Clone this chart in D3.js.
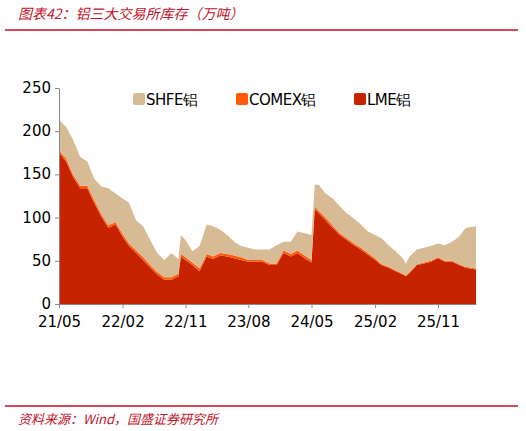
<!DOCTYPE html>
<html><head><meta charset="utf-8">
<script src="https://cdn.jsdelivr.net/npm/d3@7"></script>
<style>body{margin:0;background:#fff}</style></head>
<body><svg id="c" width="526" height="431"></svg>
<script>
const dates=["2021-05-01","2021-06-01","2021-07-01","2021-08-01","2021-09-01","2021-10-01","2021-11-01","2021-12-01","2022-01-01","2022-02-01","2022-03-01","2022-04-01","2022-05-01","2022-06-01","2022-07-01","2022-08-01","2022-09-01","2022-10-01","2022-10-12","2022-11-01","2022-12-01","2023-01-01","2023-02-01","2023-03-01","2023-04-01","2023-05-01","2023-06-01","2023-07-01","2023-08-01","2023-09-01","2023-10-01","2023-11-01","2023-12-01","2024-01-01","2024-02-01","2024-03-01","2024-04-01","2024-05-01","2024-05-15","2024-06-01","2024-07-01","2024-08-01","2024-09-01","2024-10-01","2024-11-01","2024-12-01","2025-01-01","2025-02-01","2025-03-01","2025-04-01","2025-05-01","2025-06-01","2025-06-15","2025-07-01","2025-08-01","2025-09-01","2025-10-01","2025-11-01","2025-12-01","2026-01-01","2026-02-01","2026-03-01","2026-04-15"];
const lme=[175,165,147,134,134,117,101,88,92,78,67,59,51,42,34,28,28,32,55,51,45,38,55,52,56,55,53,51,49,49,49,45,45,59,55,59,53,48,110,105,97,88,80,74,68,63,57,51,45,42,38,34,32,36,45,47,49,53,49,49,45,42,40];
const comex=[3,3,3,3,3,3,3,3,3,3,3,3,3,3,3,3,3,3,3,3,3,3,3,3,3,3,3,3,2,2,2,2,2,3,3,3,3,3,3,3,3,3,2,2,2,2,2,2,1,1,1,1,1,1,1,1,1,1,1,1,1,1,1];
const total=[213,205,190,170,165,145,136,134,128,122,117,97,90,74,59,51,59,52,80,74,61,67,92,90,86,80,72,67,65,63,63,63,68,72,72,84,82,80,138,138,128,122,113,105,99,92,84,80,76,68,61,53,47,55,63,65,67,70,68,72,78,88,90];
const shfe=total.map((t,i)=>t-lme[i]-comex[i]);
const yTicks=[0,50,100,150,200,250];
const xTicks=["2021-05-01","2022-02-01","2022-11-01","2023-08-01","2024-05-01","2025-02-01","2025-11-01"];
const series=[{name:"SHFE铝",color:"#D7BB94"},{name:"COMEX铝",color:"#FF5A0A"},{name:"LME铝",color:"#C62400"}];

const svg=d3.select("#c");
const P=d3.timeParse("%Y-%m-%d"), F=d3.timeFormat("%y/%m");
const rows=dates.map((d,i)=>({date:P(d),LME:lme[i],COMEX:comex[i],SHFE:shfe[i]}));
const x=d3.scaleTime().domain([P("2021-05-01"),P("2026-04-15")]).range([59,476]);
const y=d3.scaleLinear().domain([0,250]).range([304,88]);
const st=d3.stack().keys(["LME","COMEX","SHFE"])(rows);
const col={LME:"#C62400",COMEX:"#FF5A0A",SHFE:"#D7BB94"};
const area=d3.area().x(d=>x(d.data.date)).y0(d=>y(d[0])).y1(d=>y(d[1]));
svg.selectAll("path.a").data(st).enter().append("path").attr("fill",d=>col[d.key]).attr("d",area);
const ya=svg.append("g").attr("transform","translate(59,0)").call(d3.axisLeft(y).tickValues(yTicks).tickSize(4).tickSizeOuter(0));
const xa=svg.append("g").attr("transform","translate(0,304)").call(d3.axisBottom(x).tickValues(xTicks.map(P)).tickFormat(F).tickSize(4).tickSizeOuter(0));
[ya,xa].forEach(a=>{a.selectAll("path,line").attr("stroke","#888");a.selectAll("text").attr("fill","#000").style("font-family","DejaVu Sans").style("font-size","15px");});
ya.selectAll("text").attr("x",-8).attr("dy","0.3em");
xa.selectAll("text").attr("y",12);
const lx=[133,236,354];
series.forEach((s,i)=>{
 svg.append("rect").attr("x",lx[i]).attr("y",93).attr("width",12).attr("height",12).attr("rx",2).attr("fill",s.color);
 svg.append("text").attr("x",lx[i]+13).attr("y",105).text(s.name).style("font-family","DejaVu Sans").style("font-size","15px").attr("fill","#000").attr("letter-spacing","-0.5");
});
const red="#C0142A";
svg.append("text").attr("x",18).attr("y",19).text("图表42：铝三大交易所库存（万吨）").attr("fill",red).style("font-family","Noto Sans CJK SC").style("font-size","14px").style("font-style","italic");
svg.append("line").attr("x1",5).attr("x2",518).attr("y1",30).attr("y2",30).attr("stroke",red).attr("stroke-width",1.5);
svg.append("line").attr("x1",5).attr("x2",518).attr("y1",406).attr("y2",406).attr("stroke",red).attr("stroke-width",1.5);
svg.append("text").attr("x",18).attr("y",424).text("资料来源：Wind，国盛证券研究所").attr("fill",red).style("font-family","Noto Sans CJK SC").style("font-size","13px").style("font-style","italic");
</script></body></html>
